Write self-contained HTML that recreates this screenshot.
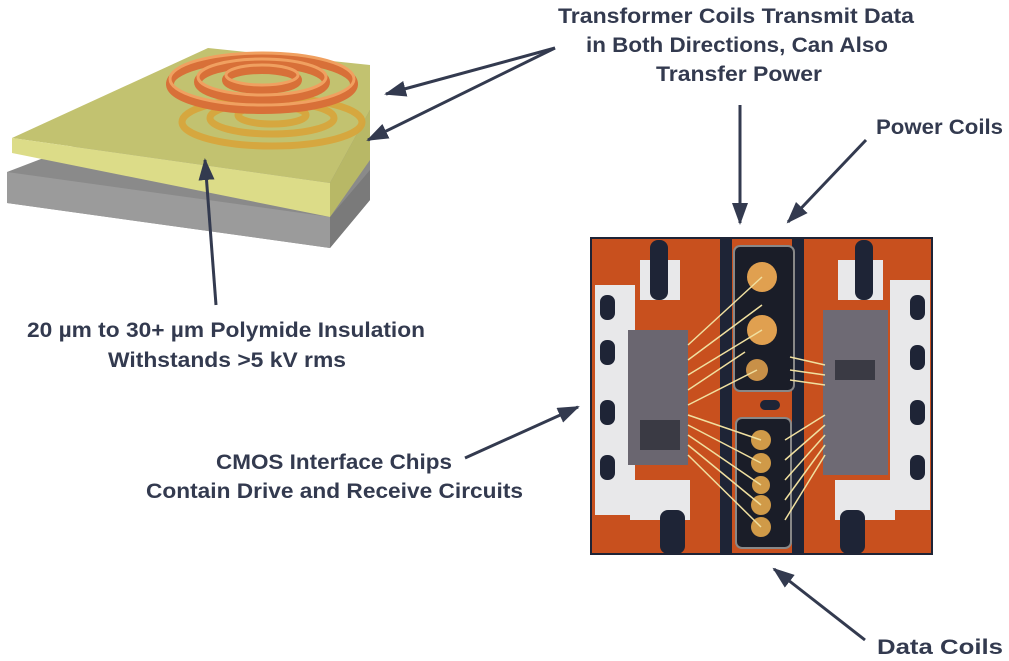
<!DOCTYPE html>
<html><head><meta charset="utf-8"><style>
html,body{margin:0;padding:0;background:#fff;}
svg{display:block;}
text{font-family:"Liberation Sans",sans-serif;font-weight:bold;font-size:21px;fill:#333a4f;}
</style></head><body>
<svg width="1009" height="661" viewBox="0 0 1009 661" xmlns="http://www.w3.org/2000/svg">
<defs>
<marker id="ahb" markerWidth="22" markerHeight="16" refX="20" refY="8" orient="auto" markerUnits="userSpaceOnUse" viewBox="0 0 22 16">
<path d="M0,0 L22,8 L0,16 z" fill="#333a4f"/></marker>
</defs>
<!-- gray substrate -->
<polygon points="7,172 208,95 370,110 370,200 330,248 7,203" fill="#8a8a8a"/>
<polygon points="7,172 330,217 330,248 7,203" fill="#9b9b9b"/>
<polygon points="330,217 370,170 370,200 330,248" fill="#7a7a7a"/>
<!-- yellow layer -->
<polygon points="12,138 208,48 370,65 370,110 330,183 12,138" fill="#c2c270"/>
<polygon points="12,138 330,183 330,217 12,153" fill="#dcdc88"/>
<polygon points="330,183 370,110 370,160 330,217" fill="#b8b866"/>
<!-- lower coil -->
<g fill="none" stroke="#d9a53a" stroke-width="7" opacity="0.9">
<ellipse cx="272" cy="122" rx="90" ry="24"/>
<ellipse cx="272" cy="118" rx="62" ry="16"/>
<ellipse cx="272" cy="115" rx="34" ry="9"/>
</g>
<!-- upper coil -->
<g fill="none" stroke="#d87038" stroke-width="8">
<ellipse cx="262" cy="84" rx="92" ry="26"/>
<ellipse cx="262" cy="82" rx="64" ry="18"/>
<ellipse cx="262" cy="80" rx="36" ry="10"/>
</g>
<g fill="none" stroke="#f0a060" stroke-width="3">
<ellipse cx="262" cy="79" rx="92" ry="26"/>
<ellipse cx="262" cy="77" rx="64" ry="18"/>
<ellipse cx="262" cy="75" rx="36" ry="10"/>
</g>
<!-- chip photo -->
<g>
<rect x="591" y="238" width="341" height="316" fill="#c8501e"/>
<rect x="591" y="238" width="341" height="316" fill="none" stroke="#1e2436" stroke-width="2"/>
<g fill="#e8e8ea">
<rect x="595" y="285" width="40" height="230"/>
<rect x="890" y="280" width="40" height="230"/>
<rect x="640" y="260" width="40" height="40"/>
<rect x="838" y="260" width="45" height="40"/>
<rect x="630" y="480" width="60" height="40"/>
<rect x="835" y="480" width="60" height="40"/>
</g>
<g fill="#1e2436">
<rect x="600" y="295" width="15" height="25" rx="7"/>
<rect x="600" y="340" width="15" height="25" rx="7"/>
<rect x="600" y="400" width="15" height="25" rx="7"/>
<rect x="600" y="455" width="15" height="25" rx="7"/>
<rect x="910" y="295" width="15" height="25" rx="7"/>
<rect x="910" y="345" width="15" height="25" rx="7"/>
<rect x="910" y="400" width="15" height="25" rx="7"/>
<rect x="910" y="455" width="15" height="25" rx="7"/>
<rect x="650" y="240" width="18" height="60" rx="8"/>
<rect x="855" y="240" width="18" height="60" rx="8"/>
<rect x="720" y="238" width="12" height="316"/>
<rect x="792" y="238" width="12" height="316"/>
<rect x="660" y="510" width="25" height="44" rx="8"/>
<rect x="840" y="510" width="25" height="44" rx="8"/>
<rect x="760" y="400" width="20" height="10" rx="5"/>
</g>
<rect x="628" y="330" width="60" height="135" fill="#6a6670"/>
<rect x="823" y="310" width="65" height="165" fill="#6e6a74"/>
<g fill="#3a3a44">
<rect x="835" y="360" width="40" height="20"/>
<rect x="640" y="420" width="40" height="30"/>
</g>
<rect x="734" y="246" width="60" height="145" rx="6" fill="#1a1d28" stroke="#888" stroke-width="2"/>
<rect x="736" y="418" width="55" height="130" rx="6" fill="#1a1d28" stroke="#888" stroke-width="2"/>
<g fill="#e0a050">
<circle cx="762" cy="277" r="15"/>
<circle cx="762" cy="330" r="15"/>
<circle cx="757" cy="370" r="11" fill="#c89048"/>
</g>
<g fill="#d09a48">
<circle cx="761" cy="440" r="10"/>
<circle cx="761" cy="463" r="10"/>
<circle cx="761" cy="485" r="9"/>
<circle cx="761" cy="505" r="10"/>
<circle cx="761" cy="527" r="10"/>
</g>
<g stroke="#f0e0a0" stroke-width="1.5">
<line x1="688" y1="345" x2="762" y2="277"/>
<line x1="688" y1="360" x2="762" y2="305"/>
<line x1="688" y1="375" x2="762" y2="330"/>
<line x1="688" y1="390" x2="745" y2="352"/>
<line x1="688" y1="405" x2="757" y2="370"/>
<line x1="688" y1="415" x2="761" y2="440"/>
<line x1="688" y1="425" x2="761" y2="463"/>
<line x1="688" y1="435" x2="761" y2="485"/>
<line x1="688" y1="445" x2="761" y2="505"/>
<line x1="688" y1="455" x2="761" y2="527"/>
<line x1="785" y1="440" x2="825" y2="415"/>
<line x1="785" y1="460" x2="825" y2="425"/>
<line x1="785" y1="480" x2="825" y2="435"/>
<line x1="785" y1="500" x2="825" y2="445"/>
<line x1="785" y1="520" x2="825" y2="455"/>
<line x1="790" y1="357" x2="825" y2="365"/>
<line x1="790" y1="370" x2="825" y2="375"/>
<line x1="790" y1="380" x2="825" y2="385"/>
</g>
</g>
<g stroke="#333a4f" stroke-width="3" fill="none">
<line x1="555" y1="48" x2="386" y2="94" marker-end="url(#ahb)"/>
<line x1="555" y1="48" x2="368" y2="140" marker-end="url(#ahb)"/>
<line x1="216" y1="305" x2="205" y2="160" marker-end="url(#ahb)"/>
<line x1="740" y1="105" x2="740" y2="223" marker-end="url(#ahb)"/>
<line x1="866" y1="140" x2="788" y2="222" marker-end="url(#ahb)"/>
<line x1="465" y1="458" x2="578" y2="407" marker-end="url(#ahb)"/>
<line x1="865" y1="640" x2="774" y2="569" marker-end="url(#ahb)"/>
</g>
<text x="558" y="23" textLength="356" lengthAdjust="spacingAndGlyphs">Transformer Coils Transmit Data</text>
<text x="586" y="52" textLength="302" lengthAdjust="spacingAndGlyphs">in Both Directions, Can Also</text>
<text x="656" y="81" textLength="166" lengthAdjust="spacingAndGlyphs">Transfer Power</text>
<text x="876" y="134" textLength="127" lengthAdjust="spacingAndGlyphs">Power Coils</text>
<text x="27" y="337" textLength="398" lengthAdjust="spacingAndGlyphs">20 µm to 30+ µm Polymide Insulation</text>
<text x="108" y="367" textLength="238" lengthAdjust="spacingAndGlyphs">Withstands &gt;5 kV rms</text>
<text x="216" y="469" textLength="236" lengthAdjust="spacingAndGlyphs">CMOS Interface Chips</text>
<text x="146" y="498" textLength="377" lengthAdjust="spacingAndGlyphs">Contain Drive and Receive Circuits</text>
<text x="877" y="654" textLength="126" lengthAdjust="spacingAndGlyphs">Data Coils</text>
</svg>
</body></html>
